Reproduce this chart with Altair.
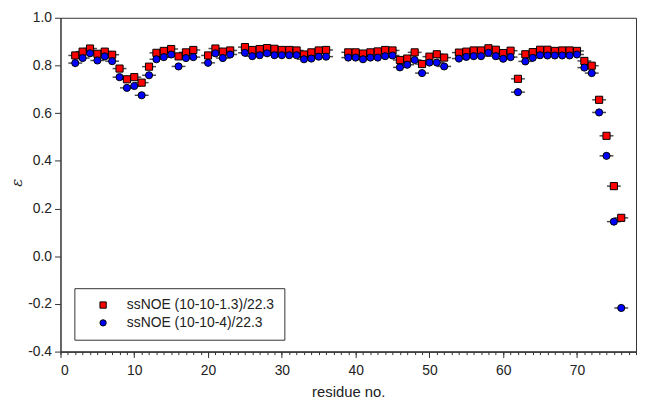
import altair as alt
import pandas as pd

# ubiquitin residues (P19, E24, P37, P38, G53 absent)
residues = [2, 3, 4, 5, 6, 7, 8, 9, 10, 11, 12, 13, 14, 15, 16, 17, 18,
            20, 21, 22, 23, 25, 26, 27, 28, 29, 30, 31, 32, 33, 34, 35, 36,
            39, 40, 41, 42, 43, 44, 45, 46, 47, 48, 49, 50, 51, 52,
            54, 55, 56, 57, 58, 59, 60, 61, 62, 63, 64, 65, 66, 67, 68, 69, 70,
            71, 72, 73, 74, 75, 76]

eps_13 = [0.842, 0.858, 0.871, 0.849, 0.858, 0.845, 0.787, 0.742, 0.751, 0.728, 0.795,
          0.853, 0.861, 0.869, 0.838, 0.855, 0.865,
          0.842, 0.871, 0.858, 0.863, 0.877, 0.865, 0.869, 0.873, 0.870, 0.865, 0.865,
          0.863, 0.846, 0.855, 0.863, 0.865,
          0.855, 0.855, 0.850, 0.855, 0.859, 0.865, 0.863, 0.823, 0.829, 0.855, 0.806,
          0.837, 0.847, 0.833,
          0.854, 0.858, 0.863, 0.863, 0.872, 0.866, 0.852, 0.862, 0.744, 0.847, 0.856,
          0.866, 0.866, 0.861, 0.863, 0.863, 0.861,
          0.819, 0.799, 0.656, 0.505, 0.294, 0.161]

eps_4 = [0.810, 0.831, 0.851, 0.821, 0.838, 0.818, 0.751, 0.706, 0.714, 0.675, 0.759,
         0.826, 0.835, 0.846, 0.796, 0.831, 0.835,
         0.811, 0.851, 0.831, 0.846, 0.853, 0.839, 0.843, 0.851, 0.843, 0.843, 0.843,
         0.843, 0.826, 0.829, 0.837, 0.837,
         0.833, 0.833, 0.826, 0.833, 0.833, 0.839, 0.842, 0.792, 0.803, 0.823, 0.768,
         0.812, 0.812, 0.796,
         0.829, 0.836, 0.839, 0.839, 0.853, 0.839, 0.828, 0.835, 0.688, 0.817, 0.832,
         0.843, 0.842, 0.842, 0.842, 0.842, 0.846,
         0.791, 0.768, 0.603, 0.421, 0.145, -0.217]

series_names = ["ssNOE (10-10-1.3)/22.3", "ssNOE (10-10-4)/22.3"]
series_colors = ["#ff0000", "#0000ff"]
series_shapes = ["square", "circle"]

x_major = [0, 10, 20, 30, 40, 50, 60, 70]
x_minor = list(range(0, 79))
y_ticks = [-0.4, -0.2, 0.0, 0.2, 0.4, 0.6, 0.8, 1.0]

rows = []
for name, vals in zip(series_names, [eps_13, eps_4]):
    for r, v in zip(residues, vals):
        rows.append({"residue": r, "eps": v, "series": name})
df = pd.DataFrame(rows)

FONT = "Liberation Sans"
AX = "#333333"

xscale = alt.Scale(domain=[0, 78], nice=False, zero=False)
yscale = alt.Scale(domain=[-0.4, 1.0], nice=False, zero=False)

y_axis = alt.Axis(values=y_ticks, labelExpr="replace(format(datum.value, '.1f'), '\u2212', '-')",
                  grid=False, tickSize=6, tickColor=AX, domainColor=AX, labelPadding=3,
                  labelFont=FONT, labelFontSize=14, labelColor="#222222",
                  title="\u03b5", titleFont="DejaVu Serif", titleFontStyle="italic",
                  titleFontWeight="normal", titleFontSize=15, titleColor="#222222",
                  titleAngle=270, titleX=-44, titleY=166, titleAlign="center",
                  titleBaseline="middle")

base = alt.Chart(df)

caps = base.mark_tick(orient="horizontal", color="black", thickness=1.5, size=14).encode(
    x=alt.X("residue:Q", scale=xscale,
            axis=alt.Axis(values=x_minor, labels=False, tickSize=3, tickColor=AX,
                          domainColor=AX, grid=False, title=None, orient="bottom")),
    y=alt.Y("eps:Q", scale=yscale, axis=y_axis),
)

points = base.mark_point(filled=True, size=52, stroke="black", strokeWidth=1, opacity=1).encode(
    x=alt.X("residue:Q", scale=xscale,
            axis=alt.Axis(values=x_major, format="d", tickSize=6, tickColor=AX,
                          domainColor=AX, grid=False, labelFont=FONT, labelFontSize=14,
                          labelColor="#222222", labelPadding=6,
                          title="residue no.", titleFont=FONT, titleFontSize=15,
                          titleFontWeight="normal", titleColor="#222222",
                          titleY=40, titleBaseline="middle", orient="bottom")),
    y=alt.Y("eps:Q", scale=yscale, axis=y_axis),
    color=alt.Color("series:N", scale=alt.Scale(domain=series_names, range=series_colors),
                    legend=alt.Legend(title=None, orient="none", legendX=14, legendY=273,
                                      strokeColor=AX, fillColor="white", padding=10,
                                      symbolOffset=12, labelOffset=17, rowPadding=4,
                                      labelFont=FONT, labelFontSize=14, labelColor="#222222",
                                      symbolSize=40, symbolStrokeColor="black",
                                      symbolStrokeWidth=1, direction="vertical")),
    shape=alt.Shape("series:N", scale=alt.Scale(domain=series_names, range=series_shapes)),
    order=alt.Order("idx:Q"),
).transform_calculate(idx="datum.series == '" + series_names[0] + "' ? 0 : 1")

chart = alt.layer(caps, points).resolve_axis(x="independent").resolve_scale(x="shared").properties(
    width=581, height=337,
    autosize=alt.AutoSizeParams(type="none"),
    padding={"left": 53, "top": 8, "right": 1, "bottom": 48},
    background="white",
).configure_view(stroke=AX, strokeWidth=1)

chart.save("out.html", embed_options={"renderer": "svg", "actions": False})
